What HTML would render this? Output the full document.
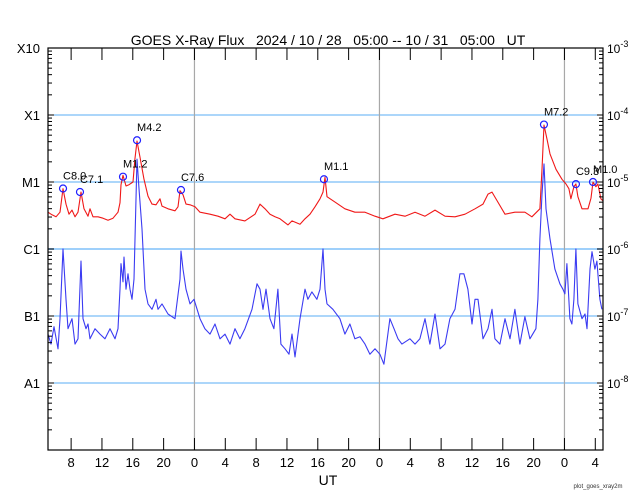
<!DOCTYPE html>
<html><head><meta charset="utf-8"><style>
body{margin:0;background:#fff;}
svg{display:block;font-family:"Liberation Sans",sans-serif;}
</style></head><body>
<svg id="chart" width="640" height="500" viewBox="0 0 640 500">
<rect x="0" y="0" width="640" height="500" fill="#fff"/>
<text x="328" y="45" font-size="14" text-anchor="middle" xml:space="preserve">GOES X-Ray Flux   2024 / 10 / 28   05:00 -- 10 / 31   05:00   UT</text>
<g id="grid"></g>
<g id="series"></g>
<g id="axes"></g>
<g id="flares"></g>
<text x="328" y="485" font-size="14" text-anchor="middle">UT</text>
<text x="598" y="488" font-size="6" text-anchor="middle" fill="#333">plot_goes_xray2m</text>
</svg>
<script>
// Data: hours since 2024-10-28 05:00 UT, log10 flux (W/m^2)
const longHours = [0,0.52,1.04,1.56,1.95,2.33,2.72,3.11,3.5,3.89,4.28,4.67,5.19,5.45,5.84,6.49,7.13,7.78,8.43,9.08,9.34,9.47,9.73,10.12,10.51,11.03,11.28,11.55,11.93,12.45,12.97,13.49,14.01,14.53,14.79,15.57,16.47,16.86,17.12,17.51,17.9,18.42,19.07,19.72,21.01,22.05,22.96,23.61,24.26,25.55,26.85,27.5,28.15,28.8,29.45,30.1,31.14,31.65,32.69,33.34,33.99,34.64,35.28,35.67,35.93,36.19,37.23,38.52,39.82,41.12,42.42,43.45,45.01,46.31,47.61,48.91,50.2,51.5,52.8,54.1,55.39,56.43,57.08,57.6,58.37,59.28,60.57,61.87,62.78,63.82,64.08,64.34,64.73,65.12,65.9,66.68,67.2,67.58,67.84,68.23,68.49,68.75,69.27,70.05,70.44,70.7,71.08,71.34,71.73,72];
const longLogFlux = [-5.45,-5.49,-5.52,-5.45,-5.10,-5.33,-5.48,-5.42,-5.52,-5.45,-5.15,-5.40,-5.51,-5.40,-5.52,-5.52,-5.54,-5.57,-5.54,-5.45,-5.31,-5.04,-4.90,-5.06,-5.04,-5.0,-4.66,-4.39,-4.63,-4.96,-5.21,-5.33,-5.34,-5.25,-5.36,-5.40,-5.43,-5.37,-5.13,-5.19,-5.33,-5.34,-5.37,-5.45,-5.48,-5.51,-5.55,-5.48,-5.55,-5.58,-5.48,-5.33,-5.40,-5.48,-5.52,-5.55,-5.64,-5.58,-5.63,-5.55,-5.48,-5.37,-5.25,-5.15,-4.93,-5.22,-5.30,-5.40,-5.45,-5.45,-5.51,-5.55,-5.48,-5.51,-5.45,-5.51,-5.42,-5.51,-5.52,-5.48,-5.40,-5.33,-5.18,-5.15,-5.30,-5.48,-5.45,-5.45,-5.52,-5.40,-4.81,-4.15,-4.36,-4.58,-4.81,-4.96,-5.03,-5.10,-5.25,-5.07,-5.03,-5.22,-5.40,-5.40,-5.24,-5.0,-5.07,-5.03,-5.25,-5.28];
const shortHours = [0,0.39,0.78,1.3,1.56,1.95,2.33,2.59,3.11,3.5,3.89,4.28,4.54,4.93,5.19,5.45,6.1,6.75,7.4,8.04,8.69,9.08,9.34,9.47,9.73,9.86,10.12,10.38,10.64,10.9,11.16,11.42,11.55,11.8,12.19,12.58,12.97,13.49,14.01,14.27,14.79,15.57,16.47,17.12,17.25,17.51,17.9,18.42,18.94,19.72,20.36,21.01,21.66,22.31,22.96,23.61,24.26,24.9,25.55,26.46,27.11,27.5,27.89,28.28,28.8,29.31,29.83,30.22,30.74,31.26,31.65,32.04,32.69,33.34,33.72,34.24,34.89,35.28,35.67,35.93,36.19,36.96,37.87,38.52,39.17,39.82,40.47,41.12,41.76,42.42,43.06,43.58,44.36,44.88,45.4,45.91,46.95,47.61,48.25,48.91,49.55,50.2,50.85,51.5,52.14,52.8,53.44,53.96,54.48,55.0,55.39,55.78,56.43,57.08,57.6,57.98,58.63,59.28,59.93,60.57,61.22,61.87,62.52,63.3,63.56,63.82,64.08,64.34,64.6,65.12,65.76,66.41,66.8,67.06,67.32,67.71,67.97,68.23,68.49,68.75,69.27,69.66,69.92,70.31,70.57,70.95,71.21,71.6,71.86];
const shortLogFlux = [-7.27,-7.42,-7.16,-7.49,-7.04,-6.0,-6.75,-7.19,-7.04,-7.42,-7.34,-6.18,-7.04,-7.19,-7.12,-7.34,-7.19,-7.27,-7.34,-7.19,-7.34,-7.19,-6.6,-6.22,-6.49,-6.12,-6.6,-6.37,-6.6,-6.75,-6.45,-5.25,-4.66,-5.10,-5.70,-6.6,-6.82,-6.9,-6.75,-6.9,-6.82,-6.97,-7.04,-6.45,-6.03,-6.3,-6.6,-6.82,-6.75,-7.04,-7.19,-7.27,-7.12,-7.34,-7.27,-7.42,-7.19,-7.34,-7.19,-6.9,-6.52,-6.6,-6.9,-6.6,-7.04,-7.19,-6.6,-7.42,-7.49,-7.57,-7.27,-7.61,-7.04,-6.6,-6.75,-6.64,-6.75,-6.6,-6.0,-6.6,-6.82,-6.9,-7.04,-7.27,-7.12,-7.34,-7.31,-7.42,-7.57,-7.49,-7.57,-7.72,-7.04,-7.19,-7.34,-7.42,-7.34,-7.42,-7.34,-7.04,-7.42,-6.97,-7.49,-7.42,-7.04,-6.9,-6.37,-6.37,-6.6,-7.12,-6.75,-6.75,-7.34,-7.19,-6.9,-7.34,-7.42,-7.04,-7.34,-6.9,-7.42,-7.01,-7.34,-7.19,-6.75,-5.85,-5.18,-4.73,-5.40,-5.85,-6.3,-6.52,-6.6,-6.67,-6.22,-7.04,-7.12,-6.75,-6.0,-6.82,-7.04,-6.97,-7.19,-6.3,-6.04,-6.3,-6.18,-6.75,-6.9];
const flareHours = [1.95,4.15,9.73,11.55,17.25,35.8,64.34,68.49,70.7];
const flareFlux = [8.0e-6,7.1e-6,1.2e-5,4.2e-5,7.6e-6,1.1e-5,7.2e-5,9.3e-6,1.0e-5];
const flareLabels = ["C8.0","C7.1","M1.2","M4.2","C7.6","M1.1","M7.2","C9.3","M1.0"];
const classLabels = ["A1","B1","C1","M1","X1","X10"];
const classExps = [-8,-7,-6,-5,-4,-3];
const xTickHours = [3,7,11,15,19,23,27,31,35,39,43,47,51,55,59,63,67,71];
const xTickLabels = ["8","12","16","20","0","4","8","12","16","20","0","4","8","12","16","20","0","4"];
const midnightHours = [19,43,67];

const NS="http://www.w3.org/2000/svg";
const L=48,R=603,T=48,B=450,H_SPAN=72;
function xOf(h){return L+h*(R-L)/H_SPAN;}
function yOf(lg){return B-(lg+9)*(B-T)/6;}
function mk(tag,attrs,parent){const e=document.createElementNS(NS,tag);for(const k in attrs)e.setAttribute(k,attrs[k]);parent.appendChild(e);return e;}
const grid=document.getElementById('grid'),series=document.getElementById('series'),axes=document.getElementById('axes'),flares=document.getElementById('flares');

// horizontal class grid lines
classExps.forEach((ex,i)=>{
  if(ex>-9&&ex<-3){
    const y=yOf(ex);
    const ln=mk('line',{x1:L,x2:R,y1:y,y2:y,stroke:ex===-6?'#9fd0fb':'#5aaef5','stroke-width':ex===-6?2:1},grid);
    
    
  }
  const t=mk('text',{x:40,y:yOf(ex)+5,'font-size':13,'text-anchor':'end'},axes);
  t.textContent=classLabels[i];
  
  
  const rt=mk('text',{x:607,y:yOf(ex)+5,'font-size':12},axes);
  rt.innerHTML='10<tspan dy="-6" font-size="9">'+ex+'</tspan>';
  
  
});
// bottom right label 10^-9 omitted (not shown in reference)
midnightHours.forEach(h=>{
  const ln=mk('line',{x1:xOf(h),x2:xOf(h),y1:T,y2:B,stroke:'#a8a8a8','stroke-width':1.2},grid);
  
  
});

function drawLine(hours,vals,color,name){
  let d='';
  hours.forEach((h,i)=>{d+=(i?'L':'M')+xOf(h).toFixed(1)+','+yOf(vals[i]).toFixed(1);});
  const p=mk('path',{d:d,fill:'none',stroke:color,'stroke-width':1.1,'stroke-linejoin':'round'},series);
  
  
}
drawLine(shortHours,shortLogFlux,'#3b3bf2','short-channel-line');
drawLine(longHours,longLogFlux,'#f01818','long-channel-line');

// axes frame
const frame=mk('rect',{x:L,y:T,width:R-L,height:B-T,fill:'none',stroke:'#000','stroke-width':1.2},axes);


// y minor ticks
for(let ex=-9;ex<-3;ex++){
  for(let m=1;m<10;m++){
    const y=yOf(ex+Math.log10(m));
    const len=m===1?6:4;
    mk('line',{x1:L,x2:L+len,y1:y,y2:y,stroke:'#000','stroke-width':1},axes);
    mk('line',{x1:R-len,x2:R,y1:y,y2:y,stroke:'#000','stroke-width':1},axes);
  }
}
// x ticks
xTickHours.forEach((h,i)=>{
  const x=xOf(h);
  mk('line',{x1:x,x2:x,y1:B,y2:B-12,stroke:'#000','stroke-width':1},axes);
  mk('line',{x1:x,x2:x,y1:T,y2:T+12,stroke:'#000','stroke-width':1},axes);
  const t=mk('text',{x:x,y:467,'font-size':13,'text-anchor':'middle'},axes);
  t.textContent=xTickLabels[i];
  
  
});

// flare markers
flareHours.forEach((h,i)=>{
  const x=xOf(h),y=yOf(Math.log10(flareFlux[i]));
  const c=mk('circle',{cx:x,cy:y,r:3.5,fill:'none',stroke:'#2020ff','stroke-width':1.2},flares);
  
  
  const t=mk('text',{x:x,y:y-9,'font-size':11},flares);
  t.textContent=flareLabels[i];
  
  
});
</script>
</body></html>
